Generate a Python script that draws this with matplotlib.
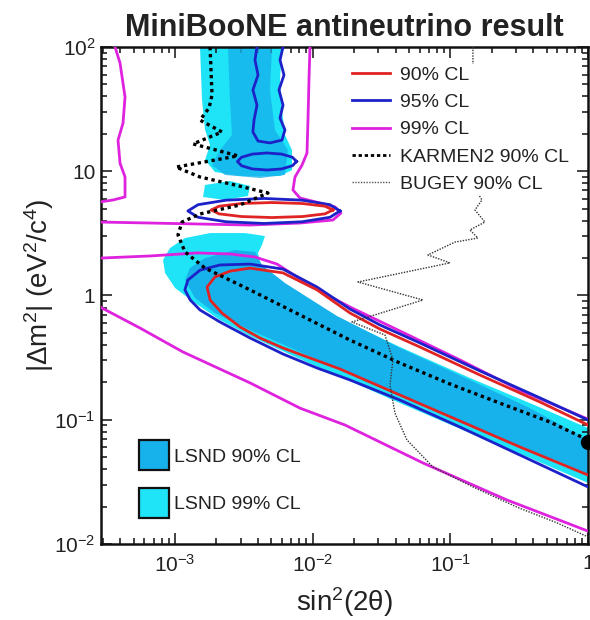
import matplotlib
matplotlib.use('Agg')
import matplotlib.pyplot as plt
from matplotlib.patches import Patch
from matplotlib.lines import Line2D
from matplotlib.ticker import LogLocator, NullFormatter

plt.rcParams['font.family'] = ['Liberation Sans', 'DejaVu Sans']
plt.rcParams['mathtext.fontset'] = 'custom'
plt.rcParams['mathtext.rm'] = 'Liberation Sans'
plt.rcParams['mathtext.it'] = 'Liberation Sans:italic'
plt.rcParams['mathtext.bf'] = 'Liberation Sans:bold'

# ---------------- data (sin^2 2theta, |dm^2| in eV^2) ----------------
# MiniBooNE 90% CL, upper island
red_isl_x = [0.01404, 0.01228, 0.00843, 0.00506, 0.00304, 0.00209, 0.00183, 0.00209, 0.00304, 0.00506, 0.00843, 0.01228, 0.01404]
red_isl_y = [4.88, 4.54, 4.32, 4.24, 4.32, 4.54, 4.88, 5.23, 5.50, 5.60, 5.50, 5.23, 4.88]
# MiniBooNE 90% CL, lower band
red_band_x = [1.0, 0.4475, 0.1641, 0.0601, 0.0308, 0.01866, 0.01075, 0.00609, 0.00351, 0.00251, 0.00195, 0.00171,
              0.00180, 0.00219, 0.00297, 0.00414, 0.00609, 0.00956, 0.01579, 0.0431, 0.1174, 0.320, 1.0]
red_band_y = [0.0907, 0.139, 0.229, 0.385, 0.537, 0.723, 1.11, 1.52, 1.66, 1.57, 1.41, 1.17,
              0.920, 0.723, 0.558, 0.455, 0.378, 0.314, 0.256, 0.158, 0.0977, 0.0604, 0.0359]

# MiniBooNE 95% CL
blue_isl_x = [0.01579, 0.01335, 0.00836, 0.00443, 0.00235, 0.00147, 0.00124, 0.00147, 0.00235, 0.00443, 0.00836, 0.01335, 0.01579]
blue_isl_y = [4.79, 4.26, 3.92, 3.80, 3.92, 4.26, 4.79, 5.38, 5.85, 6.04, 5.85, 5.38, 4.79]
blue_small_x = [0.00763, 0.00713, 0.00596, 0.00466, 0.00364, 0.00304, 0.00284, 0.00304, 0.00364, 0.00466, 0.00596, 0.00713, 0.00763]
blue_small_y = [11.98, 11.08, 10.44, 10.23, 10.44, 11.08, 11.98, 12.96, 13.74, 14.03, 13.74, 12.96, 11.98]
blue_top_x = [0.00394, 0.00381, 0.00401, 0.00368, 0.00394, 0.00375, 0.00368, 0.00401, 0.00490, 0.00598, 0.00629,
              0.00579, 0.00609, 0.00569, 0.00619, 0.00579, 0.00609]
blue_top_y = [100, 78.6, 59.5, 45.1, 34.1, 25.8, 20.7, 17.5, 16.9, 17.8, 21.5, 26.8, 34.1, 45.1, 59.5, 78.6, 100]
blue_band_x = [1.0, 0.4475, 0.1641, 0.0601, 0.0308, 0.01866, 0.01075, 0.00609, 0.00351, 0.00212, 0.00152, 0.00124,
               0.00118, 0.00129, 0.00152, 0.00212, 0.00351, 0.00609, 0.01075, 0.01866, 0.0431, 0.1174, 0.320, 1.0]
blue_band_y = [0.0995, 0.150, 0.247, 0.415, 0.579, 0.778, 1.17, 1.63, 1.79, 1.76, 1.60, 1.33,
               1.11, 0.920, 0.764, 0.612, 0.455, 0.338, 0.261, 0.209, 0.144, 0.0874, 0.0520, 0.0288]

# MiniBooNE 99% CL
mag_left_x = [3.667e-4, 3.986e-4, 4.334e-4, 4.191e-4, 3.855e-4, 3.986e-4, 4.334e-4, 4.334e-4, 3.546e-4, 2.853e-4]
mag_left_y = [100, 74.3, 39.6, 24.4, 17.8, 11.6, 8.99, 6.21, 5.87, 5.66]
mag_mid_x = [9.559e-3, 9.400e-3, 9.245e-3, 9.092e-3, 8.363e-3, 7.437e-3, 7.193e-3, 8.087e-3, 1.130e-2, 1.452e-2,
             1.605e-2, 1.404e-2, 8.087e-3, 3.505e-3, 1.519e-3, 6.583e-4, 2.853e-4]
mag_mid_y = [100, 54.2, 25.8, 14.0, 11.2, 8.99, 7.06, 6.09, 5.55, 5.16, 4.61, 4.05, 3.83, 3.69, 3.76, 3.83, 3.90]
mag_up_x = [2.853e-4, 6.58e-4, 1.445e-3, 2.508e-3, 3.811e-3, 5.505e-3, 8.087e-3, 1.228e-2, 1.866e-2, 4.305e-2, 0.1174, 0.3202, 1.0]
mag_up_y = [2.00, 2.08, 2.20, 2.16, 2.04, 1.79, 1.36, 1.03, 0.808, 0.518, 0.303, 0.173, 0.101]
mag_low_x = [2.853e-4, 5.57e-4, 1.143e-3, 3.505e-3, 8.087e-3, 1.716e-2, 6.323e-2, 0.2577, 1.0]
mag_low_y = [0.808, 0.547, 0.351, 0.198, 0.124, 0.0907, 0.0449, 0.0226, 0.0127]

# KARMEN2 90% CL
karmen_x = [1.796e-3, 1.826e-3, 1.857e-3, 1.766e-3, 1.519e-3, 2.194e-3, 1.351e-3, 2.868e-3, 1.017e-3, 1.519e-3,
            2.727e-3, 4.735e-3, 2.965e-3, 1.519e-3, 1.124e-3, 1.051e-3, 1.182e-3, 1.652e-3, 3.505e-3, 8.087e-3,
            1.866e-2, 4.305e-2, 9.933e-2, 0.2292, 0.5289, 1.0]
karmen_y = [100, 65.3, 41.1, 32.3, 25.8, 20.7, 16.6, 13.3, 10.8, 8.99, 7.75, 6.68, 5.35, 4.53, 3.90, 3.07, 2.24,
            1.66, 1.11, 0.697, 0.438, 0.286, 0.194, 0.136, 0.0959, 0.0687]

# BUGEY 90% CL
bugey_x = [0.1459, 0.1459, 0.1484, 0.1535, 0.1697, 0.1509, 0.1784, 0.1388, 0.1587, 0.1080, 0.06875, 0.09933,
           0.02133, 0.06323, 0.01929, 0.0335, 0.0383, 0.03642, 0.0396, 0.0484, 0.07474, 0.1459, 0.3046, 0.5946, 1.0]
bugey_y = [100, 37.4, 14.8, 7.06, 5.87, 4.88, 3.90, 3.37, 2.90, 2.69, 2.12, 1.83, 1.284, 0.920, 0.612, 0.481,
           0.303, 0.190, 0.113, 0.0687, 0.0417, 0.0288, 0.0198, 0.0148, 0.0114]

# LSND 99% CL regions
l99_top_x = [1.519e-3, 5.984e-3, 5.788e-3, 5.984e-3, 6.292e-3, 7.073e-3, 7.073e-3, 5.788e-3, 2.965e-3, 1.952e-3,
             1.652e-3, 1.796e-3, 1.652e-3, 1.571e-3]
l99_top_y = [100, 100, 54.2, 31.1, 19.6, 14.8, 10.2, 9.16, 9.16, 9.86, 12.3, 16.3, 21.5, 37.4]
l99_blob_x = [1.652e-3, 2.508e-3, 3.505e-3, 3.39e-3, 2.307e-3, 1.597e-3]
l99_blob_y = [7.75, 8.35, 7.61, 6.32, 5.87, 6.21]
l99_band_x = [9.20e-4, 1.182e-3, 1.796e-3, 3.224e-3, 4.504e-3, 4.283e-3, 4.007e-3, 4.143e-3, 4.657e-3, 6.840e-3,
              1.501e-2, 4.305e-2, 0.1388, 0.3785, 1.0, 1.0, 0.3785, 0.1388, 4.305e-2, 1.866e-2, 8.087e-3,
              3.505e-3, 2.122e-3, 1.397e-3, 1.0e-3, 8.46e-4, 8.184e-4]
l99_band_y = [2.41, 2.90, 3.18, 3.18, 3.01, 2.55, 2.20, 1.83, 1.52, 1.17, 0.671, 0.385, 0.217, 0.136, 0.0858,
              0.0310, 0.0492, 0.0782, 0.136, 0.205, 0.308, 0.472, 0.635, 0.870, 1.15, 1.52, 1.93]
# LSND 90% CL regions
l90_top_x = [2.426e-3, 5.064e-3, 4.897e-3, 5.324e-3, 6.615e-3, 6.292e-3, 4.143e-3, 2.307e-3, 1.857e-3, 2.122e-3,
             2.594e-3, 2.508e-3]
l90_top_y = [100, 100, 45.1, 21.5, 14.8, 9.33, 8.82, 9.33, 11.2, 14.8, 19.6, 37.4]
l90_band_x = [1.182e-3, 1.285e-3, 1.652e-3, 2.727e-3, 3.811e-3, 4.283e-3, 6.292e-3, 1.501e-2, 4.305e-2, 0.1388,
              0.3785, 1.0, 1.0, 0.3785, 0.1388, 4.305e-2, 1.866e-2, 8.087e-3, 3.505e-3, 1.952e-3, 1.397e-3]
l90_band_y = [1.33, 1.66, 2.00, 2.32, 2.24, 1.76, 1.26, 0.684, 0.378, 0.209, 0.124, 0.0687, 0.0366, 0.0571,
              0.0907, 0.155, 0.2335, 0.351, 0.528, 0.723, 0.955]

best_fit_x = [1.0]
best_fit_y = [0.066]

x_ticks = [1e-3, 1e-2, 1e-1, 1]
x_tick_labels = [r'$\mathregular{10^{-3}}$', r'$\mathregular{10^{-2}}$', r'$\mathregular{10^{-1}}$', '1']
y_ticks = [1e-2, 1e-1, 1, 10, 100]
y_tick_labels = [r'$\mathregular{10^{-2}}$', r'$\mathregular{10^{-1}}$', '1', '10', r'$\mathregular{10^{2}}$']

# ---------------- styles ----------------
C90 = '#17b2ec'
C99 = '#1fe3f6'
RED = '#e02424'
BLUE = '#1c22c8'
MAG = '#de22de'

fig = plt.figure(figsize=(5.9, 6.2), dpi=100)
ax = fig.add_axes([0.1712, 0.1226, 0.8254, 0.8016])
ax.set_xscale('log')
ax.set_yscale('log')
ax.set_xlim(2.9e-4, 1.0)
ax.set_ylim(1e-2, 1e2)

for xs, ys in [(l99_top_x, l99_top_y), (l99_blob_x, l99_blob_y), (l99_band_x, l99_band_y)]:
    ax.fill(xs, ys, color=C99, lw=0, zorder=1)
ax.fill(l90_top_x, l90_top_y, color=C90, lw=0, alpha=0.8, zorder=2)
ax.fill(l90_band_x, l90_band_y, color=C90, lw=0, zorder=2)

lw = 2.0
for xs, ys in [(mag_left_x, mag_left_y), (mag_mid_x, mag_mid_y), (mag_up_x, mag_up_y), (mag_low_x, mag_low_y)]:
    ax.plot(xs, ys, color=MAG, lw=lw, zorder=3)
for xs, ys in [(blue_isl_x, blue_isl_y), (blue_small_x, blue_small_y), (blue_top_x, blue_top_y), (blue_band_x, blue_band_y)]:
    ax.plot(xs, ys, color=BLUE, lw=lw, zorder=4)
for xs, ys in [(red_isl_x, red_isl_y), (red_band_x, red_band_y)]:
    ax.plot(xs, ys, color=RED, lw=lw, zorder=5)
ax.plot(karmen_x, karmen_y, color='black', lw=2.4, ls=(0, (1, 1.1)), zorder=6)
ax.plot(bugey_x, bugey_y, color='#333333', lw=1.0, ls=(0, (1, 1)), zorder=6)
ax.plot(best_fit_x, best_fit_y, 'o', color='black', ms=10, clip_on=False, zorder=7)

# ticks
ax.set_xticks(x_ticks)
ax.set_xticklabels(x_tick_labels)
ax.set_yticks(y_ticks)
ax.set_yticklabels(y_tick_labels)
ax.xaxis.set_minor_locator(LogLocator(base=10, subs=range(2, 10), numticks=20))
ax.yaxis.set_minor_locator(LogLocator(base=10, subs=range(2, 10), numticks=20))
ax.xaxis.set_minor_formatter(NullFormatter())
ax.yaxis.set_minor_formatter(NullFormatter())
ax.tick_params(which='both', direction='in', top=True, right=True, width=1.2, colors='#222222')
ax.tick_params(which='major', length=8)
ax.tick_params(which='minor', length=4)
ax.tick_params(axis='x', which='major', labelsize=15, pad=7, labelcolor='#222222')
ax.tick_params(axis='y', which='major', labelsize=15, pad=4, labelcolor='#222222')
for s in ax.spines.values():
    s.set_linewidth(1.8)
    s.set_color('#111111')

ax.set_xlabel(r'$\mathregular{sin^2(2\theta)}$', fontsize=20, color='#222222')
ax.set_ylabel(r'$\mathregular{|\Delta m^2|\ (eV^2/c^4)}$', fontsize=20, color='#222222')
ax.xaxis.set_label_coords(0.5, -0.083)
ax.yaxis.set_label_coords(-0.092, 0.52)
ax.set_title('MiniBooNE antineutrino result', fontsize=22, fontweight='bold', pad=8, color='#222222')

# legends
h_lines = [Line2D([], [], color=RED, lw=2),
           Line2D([], [], color=BLUE, lw=2),
           Line2D([], [], color=MAG, lw=2),
           Line2D([], [], color='black', lw=2, ls=(0, (1.2, 1))),
           Line2D([], [], color='#555555', lw=1, ls=(0, (1, 1)))]
l_lines = ['90% CL', '95% CL', '99% CL', 'KARMEN2 90% CL', 'BUGEY 90% CL']
leg1 = ax.legend(h_lines, l_lines, loc='upper left', bbox_to_anchor=(0.492, 0.985), fontsize=14,
                 handlelength=1.95, handletextpad=0.5, labelspacing=0.5, borderpad=0.1,
                 frameon=True, fancybox=False, edgecolor='none', facecolor='white', framealpha=1.0,
                 labelcolor='#222222')
leg1.set_zorder(8)
ax.add_artist(leg1)

h_lsnd = [Patch(facecolor=C90, edgecolor='#111111', lw=1.6),
          Patch(facecolor=C99, edgecolor='#111111', lw=1.6)]
leg2 = ax.legend(h_lsnd, ['LSND 90% CL', 'LSND 99% CL'], loc='upper left', bbox_to_anchor=(0.059, 0.228),
                 fontsize=14, handlelength=1.5, handleheight=2.0, handletextpad=0.3, labelspacing=0.9,
                 borderpad=0.0, frameon=False, labelcolor='#222222')
leg2.set_zorder(8)

fig.savefig('out.png', dpi=100)
